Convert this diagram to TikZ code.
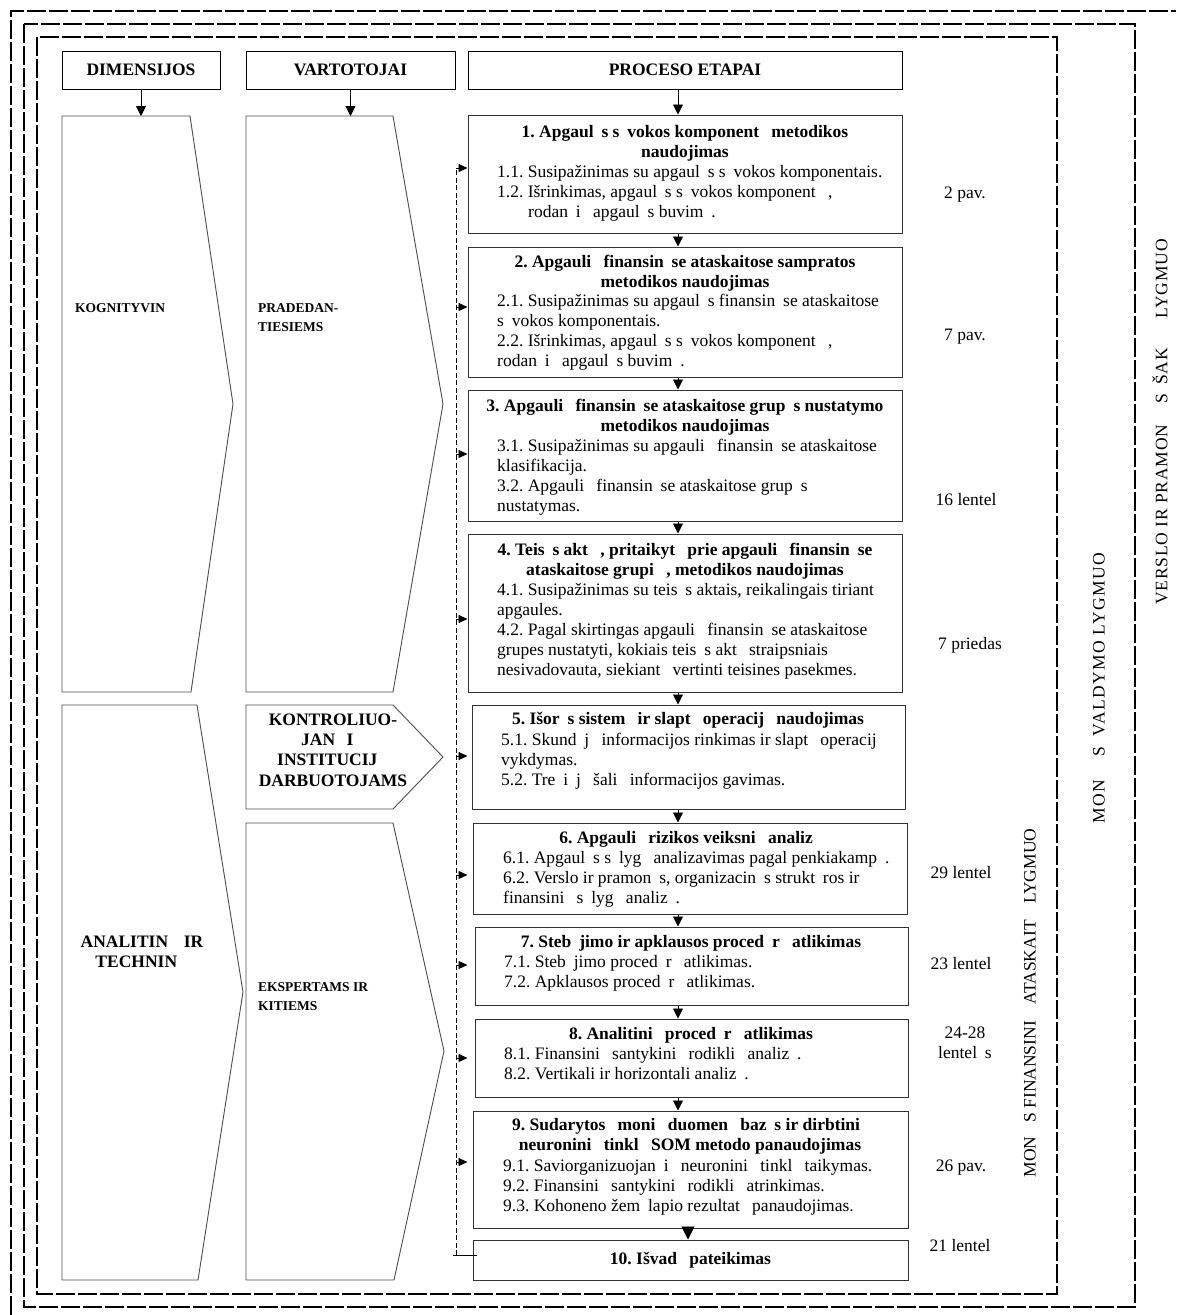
\documentclass[tikz,border=0pt]{standalone}
\usepackage{fontspec}
\setmainfont{Liberation Serif}
\usetikzlibrary{arrows.meta,fit}
\frenchspacing
\newcommand\xg{\hbox to 0.45em{}}
\newcommand\XG{\hbox to 0.65em{}}
\newcommand\fs{\fontsize{17.5}{20.1}\selectfont}
\newcommand\fss{\fontsize{13.5}{19}\selectfont}
\begin{document}
\begin{tikzpicture}[x=1pt,y=-1pt,
  dframe/.style={line width=1.8pt,dash pattern=on 19pt off 3pt},
  hbox/.style={draw=black,line width=1pt,inner sep=0pt,font=\bfseries\fs},
  pbox/.style={draw=black!80,line width=1pt,inner sep=0pt},
  shp/.style={draw=black!70,line width=0.9pt},
  ttl/.style={font=\bfseries\fs,align=center,inner sep=0pt},
  itm/.style={font=\fs,align=left,inner sep=0pt},
  lab/.style={font=\bfseries\fs,inner sep=0pt},
  slab/.style={font=\bfseries\fss,inner sep=0pt,align=left},
  ref/.style={font=\fs,inner sep=0pt,align=center},
  rot/.style={font=\fs,inner sep=0pt,rotate=90},
  arr/.style={line width=0.9pt,-{Triangle[length=10pt,width=10pt]}},
  bigarr/.style={line width=0.9pt,-{Triangle[length=13pt,width=13pt]}},
  fb/.style={line width=0.8pt,dash pattern=on 5pt off 2.5pt},
  fbarr/.style={line width=0.8pt,-{Triangle[length=9pt,width=8pt]}}]
\useasboundingbox (0,0) rectangle (1176,1315);
% frames
\draw[dframe] (11,1315) -- (11,11) -- (1176,11);
\draw[dframe] (24,24) rectangle (1135,1307);
\draw[dframe] (37,37) rectangle (1057,1294);
% headers
\node[hbox,fit={(62,51) (220,89)}] (h1) {};
\node[lab] (h1t) at (h1.center) {DIMENSIJOS};
\node[hbox,fit={(246,51) (455,89)}] (h2) {};
\node[lab] (h2t) at (h2.center) {VARTOTOJAI};
\node[hbox,fit={(468,51) (902,89)}] (h3) {};
\node[lab] (h3t) at (h3.center) {PROCESO ETAPAI};
% shapes
\draw[shp] (62,116) coordinate (s1) -- (190,116) -- (233,404) -- (191,692) -- (62,692) -- cycle;
\draw[shp] (62,705) coordinate (s2) -- (197,705) -- (243,992) -- (198,1280) -- (62,1280) -- cycle;
\draw[shp] (246,116) coordinate (s3) -- (393,116) -- (443,404) -- (393,692) -- (246,692) -- cycle;
\draw[shp] (246,705) coordinate (s4) -- (393,705) -- (443,757) -- (393,809) -- (246,809) -- cycle;
\draw[shp] (246,823) coordinate (s5) -- (393,823) -- (444,1051) -- (394,1280) -- (246,1280) -- cycle;
\node[slab,anchor=north west] (k1) at (75,303) {KOGNITYVIN};
\node[slab,anchor=north west] (k2) at (258,303) {PRADEDAN-\\TIESIEMS};
\node[lab,anchor=north,align=center] (k3) at (142,936) {ANALITIN\XG\ IR\\TECHNIN\XG};
\node[lab,anchor=north,align=center] (k4) at (333,714) {KONTROLIUO-\\JAN\XG I\XG\\INSTITUCIJ\XG\\DARBUOTOJAMS};
\node[slab,anchor=north west] (k5) at (258,982) {EKSPERTAMS IR\\KITIEMS};
% header arrows
\coordinate (top) at (0,116);
\coordinate (ax) at (678,0);
\draw[arr] (h1.south) -- (h1.south |- top);
\draw[arr] (h2.south) -- (h2.south |- top);
% process boxes
\node[pbox,fit={(468,115) (902,233)}] (b1) {};
\node[pbox,fit={(468,247) (902,377)}] (b2) {};
\node[pbox,fit={(468,390) (902,521)}] (b3) {};
\node[pbox,fit={(468,534) (902,692)}] (b4) {};
\node[pbox,fit={(472,705) (905,809)}] (b5) {};
\node[pbox,fit={(473,823) (907,914)}] (b6) {};
\node[pbox,fit={(475,927) (908,1005)}] (b7) {};
\node[pbox,fit={(475,1019) (908,1097)}] (b8) {};
\node[pbox,fit={(473,1111) (908,1228)}] (b9) {};
\node[pbox,fit={(473,1240) (908,1280)}] (b10) {};
% box texts
\node[ttl,anchor=north] (t1) at (685,125) {1. Apgaul\xg s s\xg vokos komponent\xg\ metodikos\\naudojimas};
\node[itm,anchor=north west] (i1) at (497,165) {1.1. Susipažinimas su apgaul\xg s s\xg vokos komponentais.\\1.2. Išrinkimas, apgaul\xg s s\xg vokos komponent\xg\ ,\\\hspace*{31pt}rodan\xg i\xg\ apgaul\xg s buvim\xg .};
\node[ttl,anchor=north] (t2) at (685,255) {2. Apgauli\xg\ finansin\xg se ataskaitose sampratos\\metodikos naudojimas};
\node[itm,anchor=north west] (i2) at (497,294) {2.1. Susipažinimas su apgaul\xg s finansin\xg se ataskaitose\\s\xg vokos komponentais.\\2.2. Išrinkimas, apgaul\xg s s\xg vokos komponent\xg\ ,\\rodan\xg i\xg\ apgaul\xg s buvim\xg .};
\node[ttl,anchor=north] (t3) at (685,399) {3. Apgauli\xg\ finansin\xg se ataskaitose grup\xg s nustatymo\\metodikos naudojimas};
\node[itm,anchor=north west] (i3) at (497,439) {3.1. Susipažinimas su apgauli\xg\ finansin\xg se ataskaitose\\klasifikacija.\\3.2. Apgauli\xg\ finansin\xg se ataskaitose grup\xg s\\nustatymas.};
\node[ttl,anchor=north] (t4) at (685,543) {4. Teis\xg s akt\xg\ , pritaikyt\xg\ prie apgauli\xg\ finansin\xg se\\ataskaitose grupi\xg\ , metodikos naudojimas};
\node[itm,anchor=north west] (i4) at (497,583) {4.1. Susipažinimas su teis\xg s aktais, reikalingais tiriant\\apgaules.\\4.2. Pagal skirtingas apgauli\xg\ finansin\xg se ataskaitose\\grupes nustatyti, kokiais teis\xg s akt\xg\ straipsniais\\nesivadovauta, siekiant \xg vertinti teisines pasekmes.};
\node[ttl,anchor=north] (t5) at (688,712) {5. Išor\xg s sistem\xg\ ir slapt\xg\ operacij\xg\ naudojimas};
\node[itm,anchor=north west] (i5) at (501,733) {5.1. Skund\xg j\xg\ informacijos rinkimas ir slapt\xg\ operacij\xg\\vykdymas.\\5.2. Tre\xg i\xg j\xg\ šali\xg\ informacijos gavimas.};
\node[ttl,anchor=north] (t6) at (690,831) {6. Apgauli\xg\ rizikos veiksni\xg\ analiz\xg};
\node[itm,anchor=north west] (i6) at (503,851) {6.1. Apgaul\xg s s\xg lyg\xg\ analizavimas pagal penkiakamp\xg .\\6.2. Verslo ir pramon\xg s, organizacin\xg s strukt\xg ros ir\\finansini\xg\ s\xg lyg\xg\ analiz\xg .};
\node[ttl,anchor=north] (t7) at (691,935) {7. Steb\xg jimo ir apklausos proced\xg r\xg\ atlikimas};
\node[itm,anchor=north west] (i7) at (504,955) {7.1. Steb\xg jimo proced\xg r\xg\ atlikimas.\\7.2. Apklausos proced\xg r\xg\ atlikimas.};
\node[ttl,anchor=north] (t8) at (691,1027) {8. Analitini\xg\ proced\xg r\xg\ atlikimas};
\node[itm,anchor=north west] (i8) at (504,1047) {8.1. Finansini\xg\ santykini\xg\ rodikli\xg\ analiz\xg .\\8.2. Vertikali ir horizontali analiz\xg .};
\node[ttl,anchor=north] (t9) at (690,1118) {9. Sudarytos \xg moni\xg\ duomen\xg\ baz\xg s ir dirbtini\xg\\neuronini\xg\ tinkl\xg\ SOM metodo panaudojimas};
\node[itm,anchor=north west] (i9) at (503,1159) {9.1. Saviorganizuojan\xg i\xg\ neuronini\xg\ tinkl\xg\ taikymas.\\9.2. Finansini\xg\ santykini\xg\ rodikli\xg\ atrinkimas.\\9.3. Kohoneno žem\xg lapio rezultat\xg\ panaudojimas.};
\node[ttl] (t10) at (b10.center) {10. Išvad\xg\ pateikimas};
% down arrows
\draw[arr] (h3.south -| ax) -- (b1.north -| ax);
\draw[arr] (b1.south -| ax) -- (b2.north -| ax);
\draw[arr] (b2.south -| ax) -- (b3.north -| ax);
\draw[arr] (b3.south -| ax) -- (b4.north -| ax);
\draw[arr] (b4.south -| ax) -- (b5.north -| ax);
\draw[arr] (b5.south -| ax) -- (b6.north -| ax);
\draw[arr] (b6.south -| ax) -- (b7.north -| ax);
\draw[arr] (b7.south -| ax) -- (b8.north -| ax);
\draw[arr] (b8.south -| ax) -- (b9.north -| ax);
\coordinate (ax2) at (688,0);
\draw[bigarr] (b9.south -| ax2) -- (b10.north -| ax2);
% feedback line
\coordinate (fbot) at (456,1255);
\coordinate (ftop) at (456,168);
\coordinate (stubL) at (453,1255);
\coordinate (stubR) at (477,1255);
\draw[line width=0.8pt] (stubL) -- (stubR);
\draw[fb] (fbot) -- (ftop);
\coordinate (f1) at (456,168);
\coordinate (f2) at (456,307);
\coordinate (f3) at (456,454);
\coordinate (f4) at (456,619);
\coordinate (f5) at (456,756);
\coordinate (f6) at (456,875);
\coordinate (f7) at (456,965);
\coordinate (f8) at (456,1058);
\coordinate (f9) at (456,1162);
\foreach \i in {1,...,9} {\draw[fbarr] (f\i) -- (f\i -| b1.west);}
% reference labels
\node[ref] (r1) at (965,195) {2 pav.};
\node[ref] (r2) at (965,337) {7 pav.};
\node[ref] (r3) at (966,500) {16 lentel};
\node[ref] (r4) at (970,645) {7 priedas};
\node[ref] (r6) at (961,873) {29 lentel};
\node[ref] (r7) at (961,964) {23 lentel};
\node[ref,anchor=north] (r8) at (965,1027) {24-28\\lentel\xg s};
\node[ref] (r9) at (961,1168) {26 pav.};
\node[ref] (r10) at (960,1245) {21 lentel};
% level labels
\node[rot] (l1) at (1030,1003) {MON\hbox to 0.8em{}S FINANSINI\hbox to 0.7em{}\ ATASKAIT\hbox to 0.7em{}\ LYGMUO};
\node[rot,font=\fs\addfontfeature{LetterSpace=8}] (l2) at (1099,688) {MON\hbox to 1.3em{}S\hbox to 0.6em{}VALDYMO LYGMUO};
\node[rot,font=\fs\addfontfeature{LetterSpace=5}] (l3) at (1160,422) {VERSLO IR PRAMON\hbox to 1.2em{}S\hbox to 0.5em{}ŠAK\hbox to 1.4em{}\ LYGMUO};
\end{tikzpicture}
\end{document}
